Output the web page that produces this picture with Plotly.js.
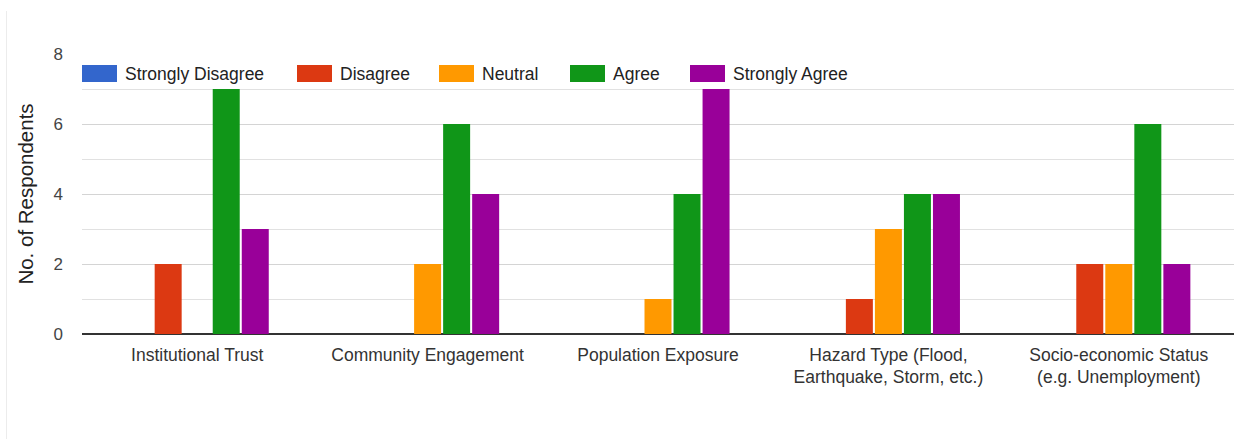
<!DOCTYPE html>
<html>
<head>
<meta charset="utf-8">
<script src="https://cdn.plot.ly/plotly-3.0.1.min.js"></script>
<style>
  html, body { margin: 0; padding: 0; background: #ffffff; }
  #chart { width: 1234px; height: 439px; }
</style>
</head>
<body>
<div id="chart"></div>
<script>
// Survey factors (x categories)
const categories = [
  "Institutional Trust",
  "Community Engagement",
  "Population Exposure",
  "Hazard Type (Flood,<br>Earthquake, Storm, etc.)",
  "Socio-economic Status<br>(e.g. Unemployment)"
];

// Response scale
const responseLevels = ["Strongly Disagree", "Disagree", "Neutral", "Agree", "Strongly Agree"];

// Number of respondents per factor, one array per response level
const stronglyDisagree = [0, 0, 0, 0, 0];
const disagree         = [2, 0, 0, 1, 2];
const neutral          = [0, 2, 1, 3, 2];
const agree            = [7, 6, 4, 4, 6];
const stronglyAgree    = [3, 4, 7, 4, 2];

const yTicks = [0, 2, 4, 6, 8];

const seriesValues = [stronglyDisagree, disagree, neutral, agree, stronglyAgree];
const colors = ["#3366cc", "#dc3912", "#ff9900", "#109618", "#990099"];

const FONT = "Arial, 'Liberation Sans', sans-serif";

// Page geometry (pixels)
const W = 1234, H = 439;
const M = { l: 82, r: 0, t: 54, b: 105 };
const plotW = W - M.l - M.r, plotH = H - M.t - M.b;
const px = x => (x - M.l) / plotW;
const py = y => (H - M.b - y) / plotH;

const traces = responseLevels.map((name, i) => ({
  type: "bar",
  name: name,
  x: categories,
  y: seriesValues[i],
  marker: { color: colors[i], line: { width: 0 } },
  hoverinfo: "x+y+name"
}));

// Custom legend row drawn over the top of the plot
const legendX = [82, 297, 439, 570, 690];
const shapes = [];
const annotations = [];
responseLevels.forEach((name, i) => {
  shapes.push({
    type: "rect", xref: "paper", yref: "paper",
    x0: px(legendX[i]), x1: px(legendX[i] + 35),
    y0: py(82), y1: py(65),
    fillcolor: colors[i], line: { width: 0 }, layer: "above"
  });
  annotations.push({
    xref: "paper", yref: "paper",
    x: px(legendX[i] + 41), y: py(73.5),
    xanchor: "left", yanchor: "middle",
    text: name, showarrow: false,
    font: { family: FONT, size: 17.5, color: "#222222" }
  });
});

// Thin card edge on the left
shapes.push({
  type: "line", xref: "paper", yref: "paper",
  x0: px(6.5), x1: px(6.5), y0: py(11), y1: py(H),
  line: { color: "#ececec", width: 1 }, layer: "below"
});

const layout = {
  width: W, height: H,
  margin: M,
  paper_bgcolor: "#ffffff",
  plot_bgcolor: "#ffffff",
  font: { family: FONT, size: 17.5, color: "#444444" },
  showlegend: false,
  barmode: "group",
  bargap: 0.37,
  bargroupgap: 0.07,
  xaxis: {
    type: "category",
    showgrid: false,
    showline: false,
    ticks: "",
    ticklabelstandoff: 8,
    tickfont: { family: FONT, size: 17.5, color: "#333333" },
    fixedrange: true
  },
  yaxis: {
    range: [0, 8],
    tickvals: yTicks,
    ticktext: yTicks.map(String),
    showgrid: true,
    gridcolor: "#d4d4d4",
    gridwidth: 1,
    minor: { dtick: 1, showgrid: true, gridcolor: "#e1e1e1", gridwidth: 1 },
    zeroline: true,
    zerolinecolor: "#333333",
    zerolinewidth: 1.6,
    showline: false,
    ticks: "",
    ticklabelstandoff: 18,
    tickfont: { family: FONT, size: 17, color: "#444444" },
    title: {
      text: "No. of Respondents",
      standoff: 14,
      font: { family: FONT, size: 20.5, color: "#222222" }
    },
    automargin: false,
    fixedrange: true
  },
  shapes: shapes,
  annotations: annotations
};

Plotly.newPlot("chart", traces, layout, { displayModeBar: false, staticPlot: true });
</script>
</body>
</html>
